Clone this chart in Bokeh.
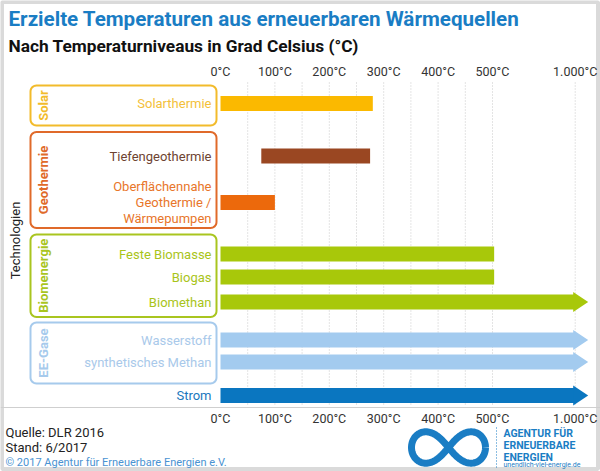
import numpy as np
from bokeh.plotting import figure
from bokeh.models import Range1d, LinearAxis, FixedTicker
from bokeh.core.properties import value
from bokeh.embed import file_html
from bokeh.resources import INLINE

# ---------------- data ----------------
technologies = ["Solarthermie", "Tiefengeothermie",
                "Oberflächennahe\nGeothermie /\nWärmepumpen",
                "Feste Biomasse", "Biogas", "Biomethan",
                "Wasserstoff", "synthetisches Methan", "Strom"]
groups = ["Solar", "Geothermie", "Geothermie", "Biomenergie", "Biomenergie",
          "Biomenergie", "EE-Gase", "EE-Gase", "Strom"]
temp_min = [0, 75, 0, 0, 0, 0, 0, 0, 0]
temp_max = [280, 275, 100, 510, 510, 1000, 1000, 1000, 1000]
open_ended = [False, False, False, False, False, True, True, True, True]
tick_values = [0, 100, 200, 300, 400, 500, 1000]
tick_labels = ["0°C", "100°C", "200°C", "300°C", "400°C", "500°C", "1.000°C"]
grid_values = [50, 100, 150, 200, 250, 300, 350, 400, 450, 500, 1000]
group_names = ["Solar", "Geothermie", "Biomenergie", "EE-Gase"]

title = "Erzielte Temperaturen aus erneuerbaren Wärmequellen"
subtitle = "Nach Temperaturniveaus in Grad Celsius (°C)"
axis_title = "Technologien"
footer = ["Quelle: DLR 2016", "Stand: 6/2017"]
copyright_txt = "© 2017 Agentur für Erneuerbare Energien e.V."
logo_lines = ["AGENTUR FÜR", "ERNEUERBARE", "ENERGIEN"]
logo_url = "unendlich-viel-energie.de"

# ---------------- style ----------------
FONT = value("Roboto")
BLUE = "#1a7dc4"
bar_colors = ["#fbb900", "#9a4722", "#ec690c", "#a8c80a", "#a8c80a", "#a8c80a",
              "#a3cbef", "#a3cbef", "#0a76c0"]
label_colors = ["#f3bf3a", "#6e4331", "#e8762a", "#a9c41a", "#a9c41a", "#a9c41a",
                "#a9c9ea", "#a9c9ea", "#1a77bd"]
group_colors = {"Solar": "#f2bb2b", "Geothermie": "#e06a2a",
                "Biomenergie": "#a9c51f", "EE-Gase": "#a6caec"}

# layout (figure pixel coordinates; y grows downwards)
W, H = 600, 471
row_y = [103, 155.5, 202, 253.5, 276.5, 301.5, 339.5, 361.5, 395]
group_box = {"Solar": (85, 125), "Geothermie": (131.5, 227.5),
             "Biomenergie": (234, 316.5), "EE-Gase": (322, 383)}
X0 = 220          # pixel position of 0 °C
K = 0.544         # pixels per °C (0..500)
BAR_H = 15


def disp(t):
    """piecewise temperature scale: 0-500 linear, 1000 compressed"""
    return t if t <= 500 else 500 + (t - 500) * 152 / 500


p = figure(width=W, height=H, x_range=Range1d(0, W), y_range=Range1d(H, 0),
           x_axis_type=None, y_axis_type=None, toolbar_location=None,
           output_backend="svg", min_border=0)
p.outline_line_color = None
p.background_fill_color = "white"
p.border_fill_color = "white"
p.extra_x_ranges = {"temp": Range1d(-X0 / K, (W - X0) / K)}

# outer light-grey frame
p.quad(left=[1.5], right=[597.5], top=[1.5], bottom=[468.5], fill_color=None,
       line_color="#dadada", line_width=4)

# gridlines
gx = [disp(v) for v in grid_values]
p.segment(x0=gx, x1=gx, y0=[82] * len(gx), y1=[406] * len(gx),
          x_range_name="temp", line_color="#c9c9c9", line_dash="1 2",
          line_width=1)

# bars
left = [disp(v) for v in temp_min]
right = [disp(v) for v in temp_max]
p.hbar(y=row_y, left=left, right=right, height=BAR_H, color=bar_colors,
       x_range_name="temp", line_color=None)

# arrow heads for open-ended ranges
head_len = 15 / K
hx, hy, hc = [], [], []
for i, o in enumerate(open_ended):
    if o:
        base = right[i] - 2 / K
        hx.append([base, base + head_len, base])
        hy.append([row_y[i] - 10, row_y[i], row_y[i] + 10])
        hc.append(bar_colors[i])
p.patches(xs=hx, ys=hy, color=hc, line_color=None, x_range_name="temp")

# axes (top and bottom)
for side, loc, line_col in (("above", 81, None), ("below", 407, "#cfcfcf")):
    ax = LinearAxis(x_range_name="temp",
                    ticker=FixedTicker(ticks=[disp(v) for v in tick_values]),
                    fixed_location=loc)
    ax.major_label_overrides = {disp(v): lab for v, lab in zip(tick_values, tick_labels)}
    ax.major_tick_line_color = None
    ax.minor_tick_line_color = None
    ax.major_tick_out = 0
    ax.major_tick_in = 0
    ax.minor_tick_out = 0
    ax.minor_tick_in = 0
    ax.axis_line_color = line_col
    ax.major_label_text_font = "Roboto"
    ax.major_label_text_font_size = "12.5px"
    ax.major_label_text_color = "#333333"
    ax.major_label_standoff = 3
    p.add_layout(ax, side)


# group boxes (rounded)
def rrect(x0, y0, x1, y1, r=6, n=8):
    xs, ys = [], []
    corners = [(x1 - r, y0 + r, -np.pi / 2, 0), (x1 - r, y1 - r, 0, np.pi / 2),
               (x0 + r, y1 - r, np.pi / 2, np.pi), (x0 + r, y0 + r, np.pi, 1.5 * np.pi)]
    for cx, cy, a0, a1 in corners:
        for a in np.linspace(a0, a1, n):
            xs.append(cx + r * np.cos(a))
            ys.append(cy + r * np.sin(a))
    return xs, ys


bx, by, bc = [], [], []
for g in group_names:
    t, b = group_box[g]
    xs, ys = rrect(30, t, 216, b)
    bx.append(xs)
    by.append(ys)
    bc.append(group_colors[g])
p.patches(xs=bx, ys=by, fill_color=None, line_color=bc, line_width=2)

# group labels (vertical)
p.text(x=[43] * 4, y=[(group_box[g][0] + group_box[g][1]) / 2 for g in group_names],
       text=group_names, angle=np.pi / 2, text_align="center",
       text_baseline="middle", text_font=FONT, text_font_size="13px",
       text_font_style="bold", text_color=[group_colors[g] for g in group_names])

# technology labels
p.text(x=[211] * len(technologies), y=row_y, text=technologies,
       text_align="right", text_baseline="middle", text_font=FONT,
       text_font_size="13px", text_color=label_colors, text_line_height=1.05)

# axis title
p.text(x=[15], y=[240], text=[axis_title], angle=np.pi / 2, text_align="center",
       text_baseline="middle", text_font=FONT, text_font_size="13px",
       text_color="#222222")

# titles
p.text(x=[8], y=[18], text=[title], text_align="left", text_baseline="middle",
       text_font=FONT, text_font_size="20.6px", text_font_style="bold",
       text_color=BLUE)
p.text(x=[8], y=[45], text=[subtitle], text_align="left", text_baseline="middle",
       text_font=FONT, text_font_size="17.3px", text_font_style="bold",
       text_color="#111111")

# footer
p.text(x=[5, 5], y=[432, 447], text=footer, text_align="left",
       text_baseline="middle", text_font=FONT, text_font_size="13px",
       text_color="#222222")
p.text(x=[5], y=[462], text=[copyright_txt], text_align="left",
       text_baseline="middle", text_font=FONT, text_font_size="11px",
       text_color="#4a93d2")

# logo
tt = np.linspace(0, 2 * np.pi, 200)
den = 1 + np.sin(tt) ** 2
lx = 448 + 37 * np.cos(tt) / den
ly = 447 + 1.2 * 37 * np.sin(tt) * np.cos(tt) / den
p.line(lx, ly, line_color=BLUE, line_width=7)
p.segment(x0=[496], x1=[496], y0=[427], y1=[467], line_color=BLUE,
          line_dash="1 2", line_width=1)
p.text(x=[503] * 3, y=[433, 445, 456.5], text=logo_lines, text_align="left",
       text_baseline="middle", text_font=FONT, text_font_size="10.5px",
       text_font_style="bold", text_color=BLUE)
p.text(x=[503], y=[464.5], text=[logo_url], text_align="left",
       text_baseline="middle", text_font=FONT, text_font_size="7px",
       text_color=BLUE)

open("out.html", "w").write(file_html(p, INLINE))
